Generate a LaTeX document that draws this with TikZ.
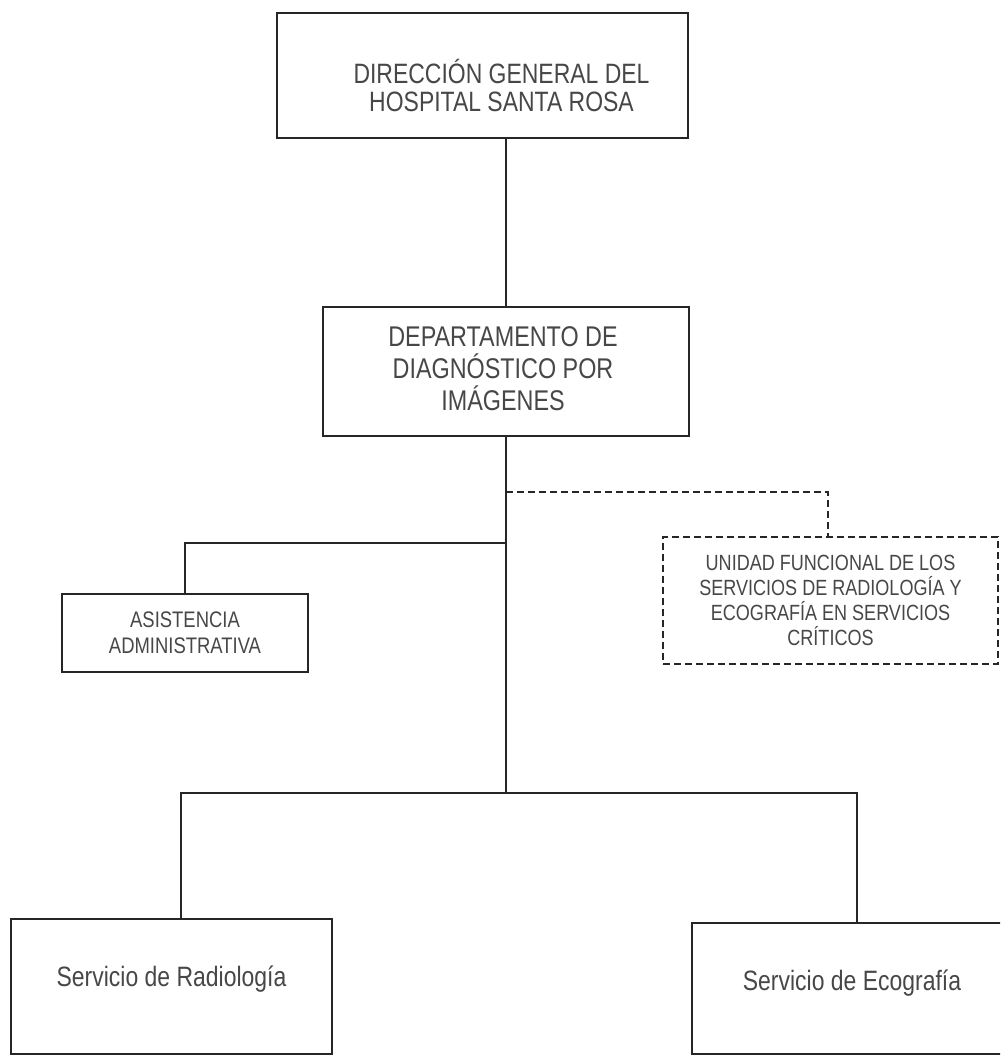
\documentclass[tikz,border=0pt]{standalone}
\usepackage{fontspec}
\setmainfont{Liberation Sans}[FakeStretch=0.82]
\begin{document}
\begin{tikzpicture}[x=1pt,y=-1pt,
  frame/.style={draw=black!85, line width=1.4pt, rectangle, inner sep=0pt},
  dframe/.style={frame, dash pattern=on 7pt off 4pt},
  txt/.style={inner sep=0pt, align=center, text=black!72},
  link/.style={draw=black!85, line width=1.4pt},
  dlink/.style={link, dash pattern=on 7pt off 4pt}]
\clip (0,0) rectangle (1000,1056);
\useasboundingbox (0,0) rectangle (1000,1056);

% boxes
\node[frame, minimum width=411pt, minimum height=125pt] (top) at (482.5,75.5) {};
\node[txt, font=\fontsize{28}{28}\selectfont, yshift=-10pt, xshift=19pt] (topt) at (top.center)
  {DIRECCIÓN GENERAL DEL\\HOSPITAL SANTA ROSA};

\node[frame, minimum width=366pt, minimum height=129pt] (dep) at (506,371.5) {};
\node[txt, font=\fontsize{28.5}{32}\selectfont, yshift=3pt, xshift=-3pt] (dept) at (dep.center)
  {DEPARTAMENTO DE\\DIAGNÓSTICO POR\\IMÁGENES};

\node[frame, minimum width=246pt, minimum height=78pt] (asis) at (185,633) {};
\node[txt, font=\fontsize{22.5}{26}\selectfont] (asist) at (asis.center)
  {ASISTENCIA\\ADMINISTRATIVA};

\node[dframe, minimum width=335pt, minimum height=127pt] (unid) at (830.5,600.5) {};
\node[txt, font=\fontsize{22}{25}\selectfont] (unidt) at (unid.center)
  {UNIDAD FUNCIONAL DE LOS\\SERVICIOS DE RADIOLOGÍA Y\\ECOGRAFÍA EN SERVICIOS\\CRÍTICOS};

\node[frame, minimum width=321pt, minimum height=135pt] (radio) at (171.5,986.5) {};
\node[txt, font=\fontsize{28}{28}\selectfont, yshift=7pt] (radiot) at (radio.center)
  {Servicio de Radiología};

\node[frame, minimum width=320pt, minimum height=131pt] (eco) at (852,988.5) {};
\node[txt, font=\fontsize{28}{28}\selectfont, yshift=5pt] (ecot) at (eco.center)
  {Servicio de Ecografía};

% junction points on the main spine
\coordinate (jd) at (506,492);
\coordinate (ja) at (506,543);
\coordinate (jb) at (506,793);

% connectors
\draw[link] (dep.north |- top.south) -- (dep.north);
\draw[link] (dep.south) -- (jb);
\draw[link] (ja) -| (asis.north);
\draw[dlink] (jd) -| ([xshift=-2.5pt]unid.north);
\draw[link] ([xshift=9.5pt]radio.north) |- (jb) -| ([xshift=5pt]eco.north);
\end{tikzpicture}
\end{document}
